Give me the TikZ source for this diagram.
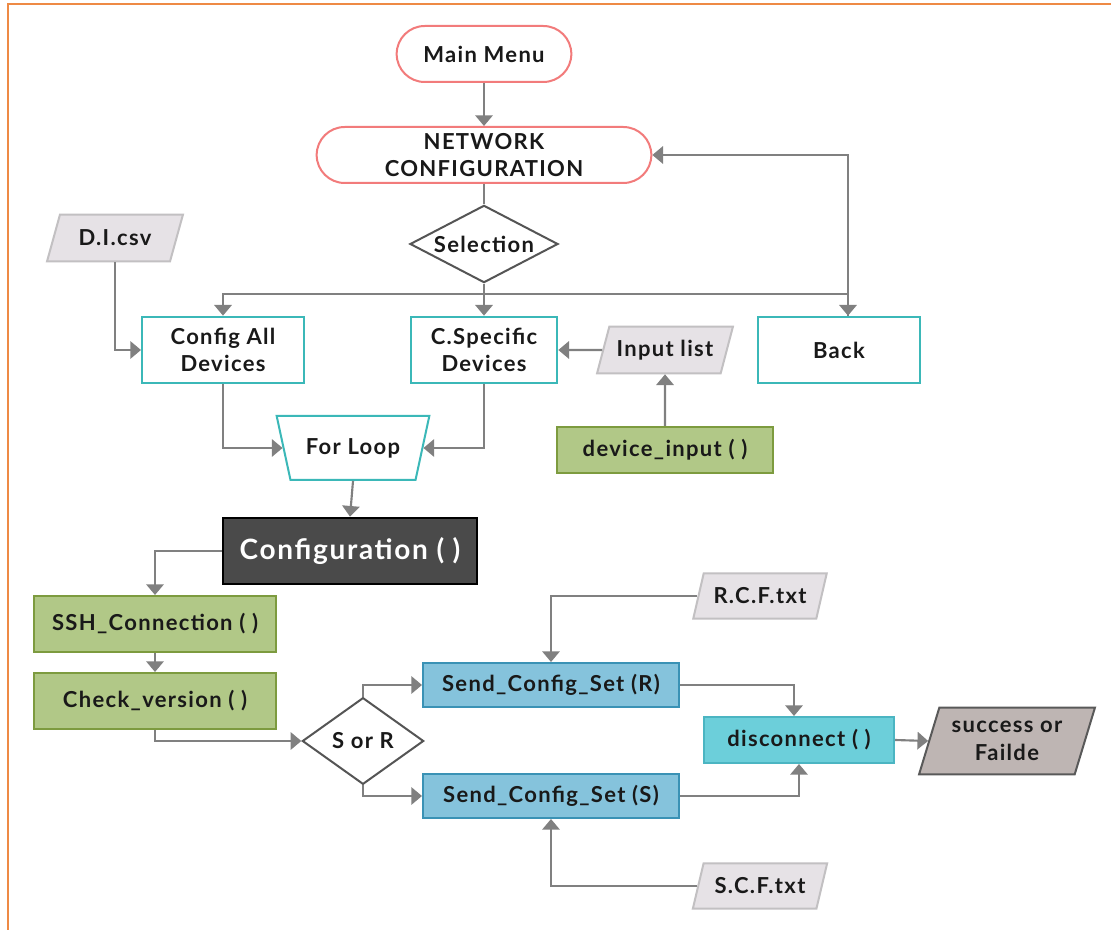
\documentclass[tikz,border=0pt]{standalone}
\usepackage{fontspec}
\setmainfont{Lato}[LetterSpace=6]
\usetikzlibrary{shapes.geometric,arrows.meta,calc}

\definecolor{framecol}{HTML}{EE8A45}
\definecolor{termcol}{HTML}{F27B7B}
\definecolor{tealcol}{HTML}{3BB8B8}
\definecolor{linecol}{HTML}{808080}
\definecolor{greenfill}{HTML}{B1C887}
\definecolor{greenline}{HTML}{7D9B3F}
\definecolor{darkfill}{HTML}{4A4A4A}
\definecolor{bluefill}{HTML}{85C3DC}
\definecolor{blueline}{HTML}{3A92B5}
\definecolor{cyanfill}{HTML}{6CCFDA}
\definecolor{cyanline}{HTML}{4BB5C2}
\definecolor{datafill}{HTML}{E6E2E6}
\definecolor{dataline}{HTML}{C2C0C2}
\definecolor{outfill}{HTML}{BEB5B3}
\definecolor{outline}{HTML}{595959}
\definecolor{decline}{HTML}{555555}

\tikzset{
  lbl/.style={font=\bfseries\fontsize{16.5}{20.5}\selectfont, text=black!90, align=center, inner sep=0pt},
  terminal/.style={lbl, draw=termcol, line width=1.5pt, fill=white, rounded corners=21pt},
  process/.style={lbl, draw=tealcol, line width=1.5pt, fill=white, minimum height=50pt},
  funcbox/.style={lbl, draw=greenline, fill=greenfill, line width=1.5pt},
  sendbox/.style={lbl, draw=blueline, fill=bluefill, line width=1.5pt, minimum width=192pt, minimum height=33pt},
  decision/.style={lbl, diamond, draw=decline, line width=1.5pt, fill=white},
  datashape/.style={lbl, trapezium, trapezium left angle=62, trapezium right angle=118,
    trapezium stretches=true, draw=dataline, fill=datafill, line width=1.5pt},
  conn/.style={draw=linecol, line width=1.6pt},
  arr/.style={conn, -{Triangle[width=13pt,length=8pt]}},
}

\begin{document}
\begin{tikzpicture}[x=0.75pt, y=-0.75pt]
  \useasboundingbox (0,0) rectangle (1111,930);
  \fill[white] (0,0) rectangle (1111,930);
  % outer frame edges
  \draw[framecol, line width=1.8pt] (8,930) -- (8,4) -- (1111,4);

  % menu and selection
  \node[terminal, minimum width=131pt, minimum height=42pt] (main) at (484,54) {Main Menu};
  \node[terminal, minimum width=251pt, minimum height=42pt] (nc) at (484,155) {NETWORK\\CONFIGURATION};
  \node[decision, minimum width=111pt, minimum height=58pt, aspect=1.9] (sel) at (484,244) {Selection};

  % device groups
  \node[process, minimum width=121.5pt] (cfgall) at (223,350) {Config All\\Devices};
  \node[process, minimum width=110pt] (cspec) at (484,350) {C.Specific\\Devices};
  \node[process, minimum width=121.5pt] (back) at (839,350) {Back};
  \node[datashape, minimum width=102pt, minimum height=35pt] (dicsv) at (115,238) {D.I.csv};
  \node[datashape, minimum width=102pt, minimum height=35pt] (inlist) at (665,350) {Input list};
  \node[funcbox, minimum width=162pt, minimum height=34.5pt] (devin) at (665,450) {device\_input ( )};

  % loop and configuration
  \node[lbl, trapezium, trapezium left angle=118, trapezium right angle=118, trapezium stretches=true,
        draw=tealcol, line width=1.5pt, fill=white, minimum width=115.5pt, minimum height=48pt]
        (forloop) at (353,448) {For Loop};
  \node[lbl, draw=black, fill=darkfill, text=white, line width=1.5pt,
        font=\bfseries\fontsize{21}{25}\selectfont, minimum width=191pt, minimum height=50pt]
        (config) at (350,551) {Configuration ( )};
  \node[funcbox, minimum width=181.5pt, minimum height=42pt] (ssh) at (155,624) {SSH\_Connection ( )};
  \node[funcbox, minimum width=181.5pt, minimum height=42pt] (check) at (155,701) {Check\_version ( )};

  % sending stage
  \node[decision, minimum width=91pt, minimum height=65pt, aspect=1.4] (sor) at (363,741) {S or R};
  \node[sendbox] (sendr) at (551,685) {Send\_Config\_Set (R)};
  \node[sendbox] (sends) at (551,796) {Send\_Config\_Set (S)};
  \node[datashape, minimum width=101pt, minimum height=34pt] (rcf) at (760,596) {R.C.F.txt};
  \node[datashape, minimum width=101pt, minimum height=34pt] (scf) at (760,886) {S.C.F.txt};
  \node[lbl, draw=cyanline, fill=cyanfill, line width=1.5pt, minimum width=142.5pt, minimum height=34.5pt]
        (disc) at (799,740) {disconnect ( )};
  \node[lbl, trapezium, trapezium left angle=67, trapezium right angle=113, trapezium stretches=true,
        draw=outline, fill=outfill, line width=1.5pt, minimum width=132pt, minimum height=50pt]
        (succ) at (1007,741) {success or\\Failde};

  % connectors
  \draw[arr] (main.south) -- (nc.north);
  \draw[conn] (nc.south) -- (sel.north);
  \coordinate (split) at (484,294);
  \draw[conn] (sel.south) -- (split);
  \draw[arr] (split) -| (cfgall.north);
  \draw[arr] (split) -- (cspec.north);
  \draw[arr] (split) -| ($(back.north)+(9,0)$);
  \draw[arr] ($(back.north)+(9,0)$) |- (nc.east);
  \draw[arr] (dicsv.south) |- (cfgall.west);
  \draw[arr] (inlist.west) -- (cspec.east);
  \draw[arr] (devin.north) -- (inlist.south);
  \draw[arr] (cfgall.south) |- (forloop.west);
  \draw[arr] (cspec.south) |- (forloop.east);
  \draw[arr] (forloop.south) -- (config.north);
  \draw[arr] (config.west) -| (ssh.north);
  \draw[arr] (ssh.south) -- (check.north);
  \draw[arr] (check.south) |- (sor.west);
  \draw[arr] (sor.north) |- (sendr.west);
  \draw[arr] (sor.south) |- (sends.west);
  \draw[arr] (rcf.west) -| (sendr.north);
  \draw[arr] (scf.west) -| (sends.south);
  \draw[arr] (sendr.east) -| ($(disc.north)+(-5,0)$);
  \draw[arr] (sends.east) -| (disc.south);
  \draw[arr] (disc.east) -- (succ.west);
\end{tikzpicture}
\end{document}
